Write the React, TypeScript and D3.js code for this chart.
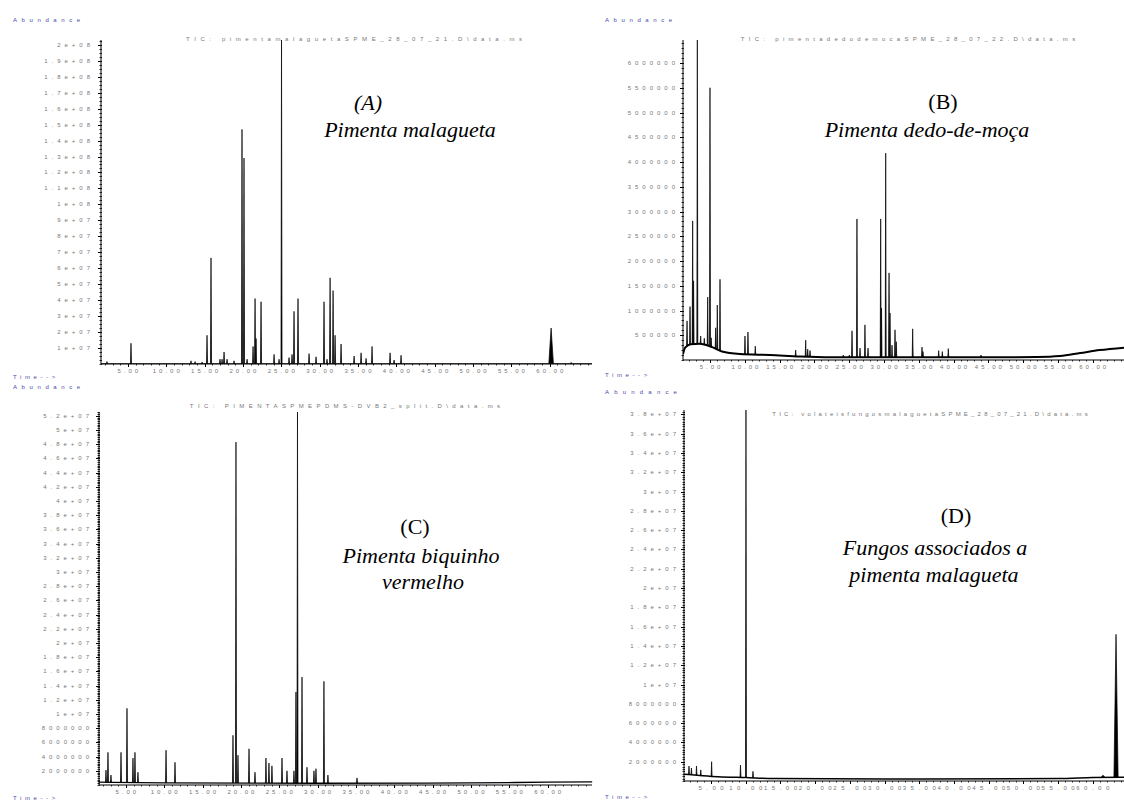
import React, { Component } from 'react'
import * as d3 from 'd3'

// (A) pimenta malagueta: retention time (min) and abundance of each peak
const timeA = [2.28, 5.41, 13.23, 13.76, 14.67, 15.32, 15.84, 17.01, 17.28, 17.54, 17.93, 18.84, 19.88, 20.14, 20.54, 21.32, 21.58, 21.71, 22.36, 24.06, 24.71, 25.03, 26.01, 26.4, 26.66, 27.18, 28.62, 29.53, 30.57, 30.96, 31.36, 31.75, 32.01, 32.79, 34.49, 35.4, 36.05, 36.83, 39.18, 39.7, 40.61, 62.78]
const abundA = [0.15e7, 1.3e7, 0.2e7, 0.15e7, 0.12e7, 1.8e7, 6.65e7, 0.3e7, 0.3e7, 0.75e7, 0.3e7, 0.2e7, 14.7e7, 12.9e7, 0.3e7, 1.1e7, 4.1e7, 1.6e7, 3.9e7, 0.6e7, 0.3e7, 20.3e7, 0.4e7, 0.6e7, 3.3e7, 4.1e7, 0.65e7, 0.45e7, 3.9e7, 0.3e7, 5.4e7, 4.6e7, 1.8e7, 1.25e7, 0.5e7, 0.7e7, 0.35e7, 1.1e7, 0.7e7, 0.25e7, 0.55e7, 0.1e7]
const broadTimeA = [60.17]
const broadAbundA = [2.25e7]
const baseTimeA = [1.5, 65.5]
const baseAbundA = [1e5, 1e5]

// (B) pimenta dedo-de-moça
const timeB = [1.68, 2.11, 2.49, 2.62, 3.16, 3.64, 4.16, 4.65, 4.98, 5.15, 5.8, 6.03, 6.42, 10.01, 10.44, 11.49, 14.47, 17.3, 18.74, 19.03, 19.36, 24.14, 25.01, 25.4, 26.11, 26.55, 27.26, 27.7, 29.52, 29.64, 30.24, 30.72, 30.86, 31.15, 31.58, 31.76, 34.12, 35.46, 35.6, 37.86, 38.38, 39.24, 43.94]
const abundB = [7.9e5, 10.8e5, 28.1e5, 16e5, 65e5, 4.85e5, 4.4e5, 12.7e5, 55e5, 4.5e5, 6.5e5, 11.1e5, 16.3e5, 4.85e5, 5.65e5, 2.8e5, 1.0e5, 2.0e5, 4.0e5, 2.2e5, 1.9e5, 1.0e5, 1.0e5, 5.9e5, 28.5e5, 2.4e5, 7.1e5, 2.4e5, 28.5e5, 10.5e5, 41.8e5, 17.6e5, 9.5e5, 3.0e5, 6.1e5, 3.7e5, 6.3e5, 2.6e5, 1.7e5, 1.9e5, 1.7e5, 2.3e5, 1.0e5]
const baseTimeB = [1.1, 1.4, 2.2, 3.5, 5.3, 6.7, 9.3, 13.6, 17.9, 22.2, 32.3, 46.7, 52, 55.3, 58.2, 61, 64.5]
const baseAbundB = [1.2e5, 2.5e5, 3.2e5, 3.3e5, 2.6e5, 1.7e5, 1.2e5, 1.0e5, 0.7e5, 0.55e5, 0.55e5, 0.55e5, 0.6e5, 0.8e5, 1.4e5, 2.0e5, 2.5e5]

// (C) pimenta biquinho vermelho
const timeC = [2.41, 2.67, 3.06, 4.37, 5.15, 5.93, 6.19, 6.58, 10.24, 11.41, 18.97, 19.36, 19.62, 21.06, 21.84, 23.27, 23.66, 24.05, 25.36, 26.01, 26.92, 27.18, 27.38, 27.97, 28.62, 29.53, 29.79, 30.83, 31.35, 35.14]
const abundC = [2.1e6, 4.6e6, 1.4e6, 4.6e6, 10.8e6, 3.8e6, 4.6e6, 1.8e6, 4.9e6, 3.2e6, 7.0e6, 48.3e6, 4.2e6, 5.1e6, 1.8e6, 3.8e6, 3.1e6, 2.7e6, 3.8e6, 2.0e6, 2.0e6, 13.1e6, 53e6, 15.2e6, 2.5e6, 2.0e6, 2.3e6, 14.6e6, 1.4e6, 1.0e6]
const baseTimeC = [1.5, 10, 30, 50, 60, 65.8]
const baseAbundC = [0.4e6, 0.3e6, 0.25e6, 0.3e6, 0.4e6, 0.45e6]

// (D) fungos associados a pimenta malagueta
const timeD = [1.82, 2.17, 2.9, 3.52, 5.08, 9.24, 10.03, 11.04]
const abundD = [1.55e6, 1.35e6, 1.55e6, 1.15e6, 2.0e6, 1.65e6, 39e6, 1.0e6]
const broadTimeD = [61.48, 63.35]
const broadAbundD = [0.6e6, 15.2e6]
const baseTimeD = [1.1, 3, 6, 10, 14, 30, 55, 60, 64.5]
const baseAbundD = [0.7e6, 0.6e6, 0.45e6, 0.35e6, 0.25e6, 0.2e6, 0.25e6, 0.35e6, 0.4e6]

const timeTicks = d3.range(5, 61, 5)
const ticksA = d3.range(1e7, 2.01e8, 1e7)
const ticksB = d3.range(5e5, 6.01e6, 5e5)
const ticksC = d3.range(2e6, 5.21e7, 2e6)
const ticksD = d3.range(2e6, 3.81e7, 2e6)

const SANS = 'Liberation Sans, Arial, sans-serif'
const SERIF = 'Liberation Serif, Times New Roman, serif'
const BLUE = '#4a4ab0'
const GREY = '#777'

// ChemStation style labels: 2e+08, 1.9e+08 ... 8000000
function chemLabel(v: number) {
    if (v < 1e7) return String(Math.round(v))
    const e = Math.floor(Math.log10(v) + 1e-9)
    const m = +(v / Math.pow(10, e)).toFixed(2)
    return m + 'e+' + String(e).padStart(2, '0')
}

function spaced(sel: any, x: number, y: number, txt: string, ls: number, anchor: string, color: string, size = 6) {
    // trailing letter-spacing shifts anchored text, compensate for it
    let dx = 0
    if (anchor === 'end') dx = ls
    if (anchor === 'middle') dx = ls / 2
    return sel.append('text')
        .attr('x', x + dx)
        .attr('y', y)
        .attr('font-family', SANS)
        .attr('font-size', size)
        .attr('letter-spacing', ls)
        .attr('text-anchor', anchor)
        .attr('fill', color)
        .text(txt)
}

function drawPanel(svg: any, p: any) {
    const x = d3.scaleLinear().domain(p.xDomain).range([p.left, p.right])
    const y = d3.scaleLinear().domain(p.yDomain).range([p.bottom, p.top])
    const base = d3.scaleLinear().domain(p.baseT).range(p.baseV).clamp(true)
    const yMax = p.yDomain[1]

    const clipId = 'clip' + p.id
    svg.append('clipPath').attr('id', clipId)
        .append('rect')
        .attr('x', p.left)
        .attr('y', p.top)
        .attr('width', p.right - p.left + 2)
        .attr('height', p.bottom - p.top)

    const plot = svg.append('g').attr('clip-path', 'url(#' + clipId + ')')
    const line = d3.line<[number, number]>()
        .x(d => x(d[0]))
        .y(d => y(Math.min(d[1], yMax)))

    // baseline / drift of the TIC
    plot.append('path')
        .attr('d', line.curve(d3.curveMonotoneX)(p.baseT.map((t: number, i: number) => [t, p.baseV[i]])))
        .attr('fill', 'none')
        .attr('stroke', '#000')
        .attr('stroke-width', p.baseWidth)

    const peakLine = d3.line<[number, number]>()
        .x(d => x(d[0]))
        .y(d => y(Math.min(d[1], yMax)))

    const drawPeaks = (times: number[], abund: number[], hw: number) => {
        times.forEach((t, i) => {
            const pts: [number, number][] = [
                [t - hw, base(t - hw)],
                [t, Math.max(abund[i], base(t))],
                [t + hw, base(t + hw)]
            ]
            plot.append('path')
                .attr('d', peakLine(pts))
                .attr('fill', '#000')
                .attr('stroke', '#000')
                .attr('stroke-width', 0.7)
                .attr('stroke-linejoin', 'miter')
        })
    }
    drawPeaks(p.times, p.abund, p.hw)
    if (p.broadT) drawPeaks(p.broadT, p.broadV, p.broadHw)

    const axes = svg.append('g').attr('stroke', '#000').attr('stroke-width', 1)
    // y axis
    axes.append('line')
        .attr('x1', p.left).attr('x2', p.left)
        .attr('y1', p.bottom).attr('y2', p.top)
    const step = p.ticks[1] - p.ticks[0]
    const minor = d3.range(0, yMax, step / p.minorDiv)
    axes.selectAll('.ymin').data(minor).enter().append('line')
        .attr('x1', p.left - 1.5).attr('x2', p.left + 1)
        .attr('y1', (d: number) => Math.round(y(d)) + 0.5)
        .attr('y2', (d: number) => Math.round(y(d)) + 0.5)
        .attr('stroke-width', 0.8)
    axes.selectAll('.ymaj').data(p.ticks).enter().append('line')
        .attr('x1', p.left - 3).attr('x2', p.left + 1)
        .attr('y1', (d: number) => Math.round(y(d)) + 0.5)
        .attr('y2', (d: number) => Math.round(y(d)) + 0.5)

    // x axis
    axes.append('line')
        .attr('x1', p.left).attr('x2', p.right)
        .attr('y1', p.bottom).attr('y2', p.bottom)
    const minorX = d3.range(Math.ceil(p.xDomain[0]), p.xDomain[1], 1)
    axes.selectAll('.xmin').data(minorX).enter().append('line')
        .attr('x1', (d: number) => Math.round(x(d)) + 0.5)
        .attr('x2', (d: number) => Math.round(x(d)) + 0.5)
        .attr('y1', p.bottom).attr('y2', p.bottom + 1.5)
        .attr('stroke-width', 0.8)
    axes.selectAll('.xmaj').data(timeTicks).enter().append('line')
        .attr('x1', (d: number) => Math.round(x(d)) + 0.5)
        .attr('x2', (d: number) => Math.round(x(d)) + 0.5)
        .attr('y1', p.bottom).attr('y2', p.bottom + 3)

    // tick labels
    p.ticks.forEach((v: number) => spaced(svg, p.labelEnd, y(v) + 2, chemLabel(v), 4, 'end', GREY))
    timeTicks.forEach((t: number) => spaced(svg, x(t), p.bottom + 9, t.toFixed(2), p.xLs, 'middle', GREY))

    // headers
    spaced(svg, p.abX, p.abY, 'Abundance', p.abLs, 'start', BLUE)
    spaced(svg, p.timeX, p.timeY, 'Time-->', 3.6, 'start', BLUE)
    spaced(svg, p.titleX, p.titleY, p.title, p.titleLs, 'middle', GREY)

    // sample name
    p.notes.forEach((n: any) => {
        svg.append('text')
            .attr('x', n.x).attr('y', n.y)
            .attr('font-family', SERIF)
            .attr('font-size', 22)
            .attr('font-style', n.italic ? 'italic' : 'normal')
            .attr('text-anchor', 'middle')
            .attr('fill', '#000')
            .text(n.text)
    })
}

class Chromatograms extends Component {
    node: SVGSVGElement | null = null

    componentDidMount() {
        this.createChart()
    }

    createChart() {
        const svg = d3.select(this.node)
        svg.selectAll('*').remove()

        const panels = [
            {
                id: 'A', left: 101, right: 592, top: 40, bottom: 364,
                xDomain: [1.5, 65.5], yDomain: [0, 2.03e8],
                times: timeA, abund: abundA, hw: 0.07,
                broadT: broadTimeA, broadV: broadAbundA, broadHw: 0.3,
                baseT: baseTimeA, baseV: baseAbundA, baseWidth: 1,
                ticks: ticksA, minorDiv: 4, labelEnd: 90, xLs: 3,
                abX: 13, abY: 22, abLs: 4.6, timeX: 13, timeY: 379,
                title: 'TIC: pimentamalaguetaSPME_28_07_21.D\\data.ms', titleX: 354, titleY: 41, titleLs: 4.6,
                notes: [
                    { text: '(A)', x: 368, y: 110, italic: true },
                    { text: 'Pimenta malagueta', x: 410, y: 137, italic: true }
                ]
            },
            {
                id: 'B', left: 683, right: 1124, top: 40, bottom: 360,
                xDomain: [1.1, 64.5], yDomain: [0, 6.465e6],
                times: timeB, abund: abundB, hw: 0.07,
                baseT: baseTimeB, baseV: baseAbundB, baseWidth: 2,
                ticks: ticksB, minorDiv: 5, labelEnd: 675, xLs: 3,
                abX: 605, abY: 22, abLs: 4.6, timeX: 605, timeY: 377,
                title: 'TIC: pimentadedodemocaSPME_28_07_22.D\\data.ms', titleX: 908, titleY: 41, titleLs: 4.3,
                notes: [
                    { text: '(B)', x: 943, y: 109, italic: false },
                    { text: 'Pimenta dedo-de-moça', x: 927, y: 137, italic: true }
                ]
            },
            {
                id: 'C', left: 99, right: 592, top: 412, bottom: 785,
                xDomain: [1.5, 65.78], yDomain: [0, 5.254e7],
                times: timeC, abund: abundC, hw: 0.07,
                baseT: baseTimeC, baseV: baseAbundC, baseWidth: 1.3,
                ticks: ticksC, minorDiv: 8, labelEnd: 89, xLs: 3,
                abX: 13, abY: 389, abLs: 4.6, timeX: 13, timeY: 800,
                title: 'TIC: PIMENTASPMEPDMS-DVB2_split.D\\data.ms', titleX: 345, titleY: 408, titleLs: 4.4,
                notes: [
                    { text: '(C)', x: 415, y: 534, italic: false },
                    { text: 'Pimenta biquinho', x: 421, y: 563, italic: true },
                    { text: 'vermelho', x: 423, y: 589, italic: true }
                ]
            },
            {
                id: 'D', left: 684, right: 1124, top: 410, bottom: 781,
                xDomain: [1.1, 64.5], yDomain: [0, 3.845e7],
                times: timeD, abund: abundD, hw: 0.07,
                broadT: broadTimeD, broadV: broadAbundD, broadHw: 0.3,
                baseT: baseTimeD, baseV: baseAbundD, baseWidth: 1.5,
                ticks: ticksD, minorDiv: 8, labelEnd: 676, xLs: 4.5,
                abX: 605, abY: 394, abLs: 5.2, timeX: 605, timeY: 799,
                title: 'TIC: volateisfungosmalaguetaSPME_28_07_21.D\\data.ms', titleX: 930, titleY: 416, titleLs: 3.2,
                notes: [
                    { text: '(D)', x: 956, y: 523, italic: false },
                    { text: 'Fungos associados a', x: 935, y: 555, italic: true },
                    { text: 'pimenta malagueta', x: 934, y: 582, italic: true }
                ]
            }
        ]
        panels.forEach(p => drawPanel(svg, p))
    }

    render() {
        return (
            <svg
                ref={node => { this.node = node }}
                width={1124}
                height={801}
                style={{ position: 'absolute', left: 0, top: 0, background: '#fff' }}
            />
        )
    }
}

export default function App() {
    return <Chromatograms />
}
